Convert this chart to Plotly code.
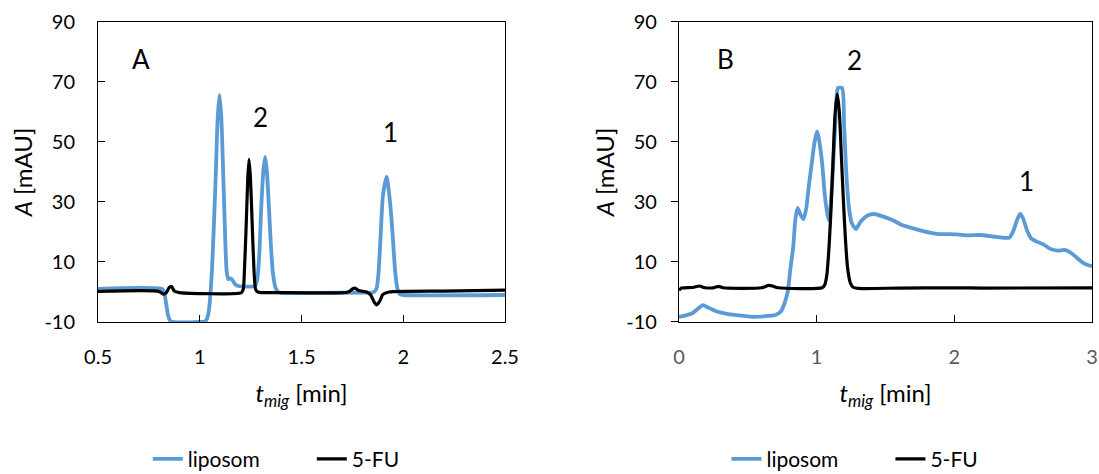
import plotly.graph_objects as go

# ---- Panel A: electropherograms, t_mig 0.5-2.5 min ----
a_lip_t = [0.50, 0.815, 0.825, 0.835, 0.845, 0.858, 1.00, 1.025, 1.035, 1.045, 1.058, 1.068,
           1.078, 1.088, 1.097, 1.106, 1.115, 1.124, 1.132, 1.14, 1.15, 1.16, 1.175, 1.19,
           1.27, 1.282, 1.292, 1.302, 1.312, 1.321, 1.33, 1.34, 1.35, 1.36, 1.372, 1.385,
           1.40, 1.60, 1.80, 1.85, 1.868, 1.878, 1.889, 1.90, 1.918, 1.935, 1.948, 1.96,
           1.972, 1.985, 2.00, 2.50]
a_lip_y = [1.0, 1.0, 0.0, -4.0, -8.0, -9.8, -10.0, -9.8, -9.0, -6.0, 5.0, 20.0,
           38.0, 58.0, 65.7, 58.0, 40.0, 20.0, 7.0, 4.3, 4.5, 4.0, 2.5, 2.0,
           2.0, 4.0, 12.0, 28.0, 40.0, 45.0, 40.0, 28.0, 15.0, 6.0, 1.5, 0.0,
           -0.3, -0.3, -0.2, -0.2, 1.0, 6.0, 19.0, 32.0, 38.4, 30.0, 19.0, 7.0,
           1.0, -0.8, -1.0, -1.0]

a_fu_t = [0.50, 0.80, 0.82, 0.835, 0.85, 0.862, 0.875, 0.90, 1.205, 1.214, 1.22, 1.228,
          1.236, 1.242, 1.249, 1.258, 1.266, 1.274, 1.285, 1.40, 1.73, 1.75, 1.763, 1.78,
          1.82, 1.84, 1.858, 1.870, 1.885, 1.90, 1.93, 2.20, 2.50]
a_fu_y = [0.2, 0.2, -0.7, -0.3, 1.5, 1.8, 0.3, -0.2, -0.2, 1.0, 8.0, 22.0,
          38.0, 44.2, 38.0, 22.0, 8.0, 1.0, 0.0, -0.2, 0.0, 1.0, 1.3, 0.5,
          0.0, -1.0, -3.5, -4.3, -3.0, -0.8, 0.0, 0.3, 0.6]

# ---- Panel B: electropherograms, t_mig 0-3 min ----
b_lip_t = [0.00, 0.05, 0.10, 0.14, 0.175, 0.21, 0.27, 0.35, 0.45, 0.55, 0.65, 0.70,
           0.74, 0.765, 0.79, 0.81, 0.83, 0.845, 0.862, 0.88, 0.905, 0.925, 0.945, 0.965,
           0.985, 1.004, 1.02, 1.04, 1.06, 1.085, 1.10, 1.12, 1.14, 1.155, 1.185, 1.20,
           1.215, 1.235, 1.255, 1.285, 1.32, 1.37, 1.42, 1.48, 1.55, 1.62, 1.70, 1.78,
           1.87, 1.95, 2.02, 2.10, 2.19, 2.28, 2.35, 2.40, 2.43, 2.46, 2.48, 2.50,
           2.53, 2.56, 2.60, 2.65, 2.70, 2.75, 2.80, 2.84, 2.88, 2.93, 2.97, 3.00]
b_lip_y = [-8.3, -7.8, -7.0, -5.5, -4.4, -5.2, -6.4, -7.3, -7.9, -8.3, -8.0, -7.7,
           -6.5, -4.0, 0.0, 8.0, 15.0, 24.0, 28.0, 26.0, 24.3, 28.0, 36.0, 43.0,
           50.0, 53.5, 50.0, 43.0, 32.0, 24.0, 28.0, 42.0, 60.0, 68.0, 68.0, 55.0,
           40.0, 28.0, 23.0, 21.0, 23.5, 25.5, 26.0, 25.2, 24.0, 22.3, 21.2, 20.2,
           19.4, 19.3, 19.2, 18.9, 19.0, 18.5, 18.1, 18.1, 20.5, 24.5, 26.0, 24.5,
           20.3, 17.8, 16.8, 15.8, 14.3, 13.8, 14.0, 13.3, 11.8, 9.9, 9.0, 8.6]

b_fu_t = [0.00, 0.02, 0.10, 0.15, 0.18, 0.25, 0.29, 0.32, 0.60, 0.65, 0.68, 0.72,
          1.04, 1.06, 1.075, 1.09, 1.105, 1.12, 1.135, 1.15, 1.165, 1.18, 1.195, 1.21,
          1.225, 1.245, 1.265, 1.30, 1.60, 2.00, 2.20, 3.00]
b_fu_y = [0.6, 1.3, 1.5, 2.0, 1.5, 1.4, 1.9, 1.4, 1.4, 2.2, 2.0, 1.4,
          1.4, 2.5, 6.0, 15.0, 28.0, 45.0, 60.0, 66.0, 60.0, 45.0, 30.0, 17.0,
          8.0, 3.0, 1.6, 1.2, 1.3, 1.4, 1.3, 1.4]

series_names = ["liposom", "5-FU"]
series_colors = ["#5B9BD5", "#000000"]
series_widths = [3.8, 3.2]

y_ticks = [-10, 10, 30, 50, 70, 90]
y_tick_labels = ["-10", "10", "30", "50", "70", "90"]
a_x_ticks = [0.5, 1, 1.5, 2, 2.5]
a_x_labels = ["0.5", "1", "1.5", "2", "2.5"]
b_x_ticks = [0, 1, 2, 3]
b_x_labels = ["0", "1", "2", "3"]

# panel letters and peak numbers: (text, x, y)
a_labels = [("A", 0.709, 77.5), ("2", 1.296, 58.2), ("1", 1.935, 53.2)]
b_labels = [("B", 0.339, 77.5), ("2", 1.275, 77.2), ("1", 2.522, 37.0)]

FONT = "Lato"

fig = go.Figure()

panels = [
    ("x", "y", "legend", [(a_lip_t, a_lip_y), (a_fu_t, a_fu_y)]),
    ("x2", "y2", "legend2", [(b_lip_t, b_lip_y), (b_fu_t, b_fu_y)]),
]
for xa, ya, leg, data in panels:
    for (t, y), name, color, width in zip(data, series_names, series_colors, series_widths):
        fig.add_trace(go.Scatter(
            x=t, y=y, mode="lines", name=name, legend=leg,
            line=dict(color=color, width=width, shape="spline", smoothing=0.6),
            xaxis=xa, yaxis=ya,
        ))

for xref, yref, labels in [("x", "y", a_labels), ("x2", "y2", b_labels)]:
    for text, lx, ly in labels:
        fig.add_annotation(x=lx, y=ly, xref=xref, yref=yref, text=text, showarrow=False,
                           xanchor="center", yanchor="middle",
                           font=dict(family=FONT, size=26, color="#000000"))

x_title = "<i>t</i><sub><i>mig</i></sub> [min]"
y_title = "<i>A</i> [mAU]"

axis_common = dict(showline=True, linecolor="#000000", linewidth=1, mirror=True,
                   showgrid=False, zeroline=False, automargin=False,
                   tickcolor="#000000", ticklen=7, tickwidth=1)

legend_common = dict(orientation="h", y=-0.012, xanchor="left", yanchor="bottom",
                     font=dict(size=21), bgcolor="rgba(0,0,0,0)",
                     entrywidthmode="pixels", entrywidth=119)

fig.update_layout(
    width=1099, height=474,
    margin=dict(l=0, r=0, t=0, b=0, autoexpand=False),
    paper_bgcolor="#ffffff", plot_bgcolor="#ffffff",
    font=dict(family=FONT, size=20, color="#000000"),
    xaxis=dict(domain=[0.0892, 0.4595], range=[0.5, 2.5], tickvals=a_x_ticks,
               ticktext=a_x_labels, ticks="inside", ticklabelstandoff=17,
               tickfont=dict(size=20, color="#000000"),
               title=dict(text=x_title, font=dict(size=24), standoff=18),
               anchor="y", **axis_common),
    yaxis=dict(domain=[0.3207, 0.9536], range=[-10, 90], tickvals=y_ticks,
               ticktext=y_tick_labels, ticks="inside", ticklabelstandoff=18,
               tickfont=dict(size=20, color="#000000"),
               title=dict(text=y_title, font=dict(size=24), standoff=4),
               anchor="x", **axis_common),
    xaxis2=dict(domain=[0.6178, 0.9936], range=[0, 3], tickvals=b_x_ticks,
                ticktext=b_x_labels, ticks="inside", ticklabelstandoff=17,
                tickfont=dict(size=20, color="#595959"),
                title=dict(text=x_title, font=dict(size=24), standoff=18),
                anchor="y2", **axis_common),
    yaxis2=dict(domain=[0.3207, 0.9536], range=[-10, 90], tickvals=y_ticks,
                ticktext=y_tick_labels, ticks="outside", ticklabelstandoff=10,
                tickfont=dict(size=20, color="#000000"),
                title=dict(text=y_title, font=dict(size=24), standoff=4),
                anchor="x2", **axis_common),
    legend=dict(x=0.1345, **legend_common),
    legend2=dict(x=0.661, **legend_common),
)

fig.write_html("out.html")
